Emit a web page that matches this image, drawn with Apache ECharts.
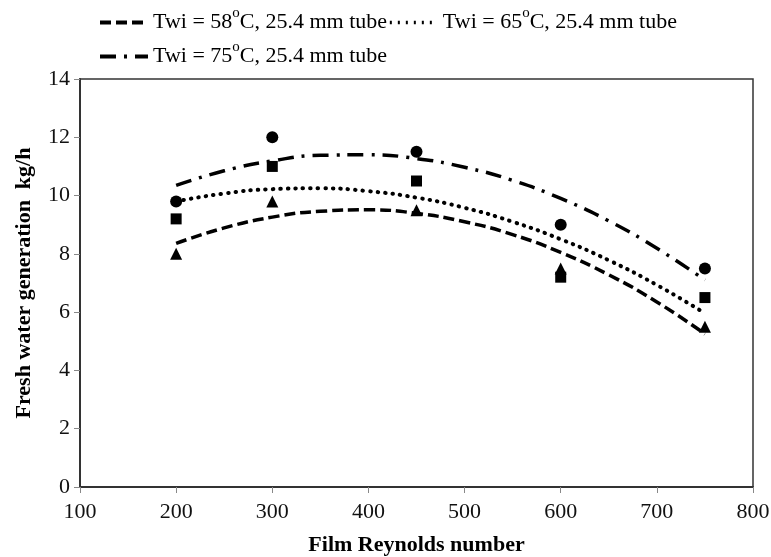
<!DOCTYPE html>
<html>
<head>
<meta charset="utf-8">
<script src="https://cdn.jsdelivr.net/npm/echarts@6/dist/echarts.min.js"></script>
<style>
  html, body { margin: 0; padding: 0; background: #fff; }
  #chart { width: 771px; height: 557px; }
</style>
</head>
<body>
<div id="chart"></div>
<script>
// measured points
var reX = [200, 300, 450, 600, 750];
var circles = [9.8, 12.0, 11.5, 9.0, 7.5];     // 75 C
var squares = [9.2, 11.0, 10.5, 7.2, 6.5];     // 65 C
var triangles = [8.0, 9.8, 9.5, 7.5, 5.5];     // 58 C

// trend curves
var curveX = [200, 250, 300, 350, 400, 450, 500, 550, 600, 650, 700, 750];
var trend58 = [8.36, 8.89, 9.26, 9.46, 9.51, 9.39, 9.10, 8.66, 8.05, 7.28, 6.35, 5.25];
var trend65 = [9.80, 10.07, 10.22, 10.25, 10.15, 9.93, 9.58, 9.10, 8.50, 7.78, 6.93, 5.96];
var trend75 = [10.35, 10.85, 11.19, 11.38, 11.40, 11.27, 10.97, 10.52, 9.90, 9.13, 8.19, 7.10];

var legendNames = ['Twi = 58oC, 25.4 mm tube', 'Twi = 65oC, 25.4 mm tube', 'Twi = 75oC, 25.4 mm tube'];
var xTicks = [100, 800, 100];
var yTicks = [0, 14, 2];

function pairs(xs, ys) {
  return xs.map(function (x, i) { return [x, ys[i]]; });
}

var chart = echarts.init(document.getElementById('chart'));

var serif = 'Liberation Serif';

var option = {
  backgroundColor: '#fff',
  animation: false,
  legend: {
    data: [
      { name: legendNames[0] },
      { name: legendNames[1], lineStyle: { type: [2, 6], cap: 'butt', width: 3.5 } },
      { name: legendNames[2] }
    ],
    left: 98,
    top: 6,
    width: 600,
    itemWidth: 48,
    itemHeight: 12,
    itemGap: 1,
    padding: 0,
    itemStyle: { opacity: 0 },
    lineStyle: { width: 4 },
    textStyle: {
      fontFamily: serif,
      fontSize: 22,
      color: '#000',
      lineHeight: 33,
      rich: {
        sup: { fontFamily: serif, fontSize: 15, color: '#000', verticalAlign: 'top', lineHeight: 20 }
      }
    },
    formatter: function (name) {
      return name.replace(/(\d)oC/, '$1{sup|o}C');
    }
  },
  grid: {
    left: 80, right: 18, top: 79, bottom: 70,
    outerBoundsMode: 'none',
    show: true,
    borderColor: '#333',
    borderWidth: 1.5
  },
  xAxis: {
    type: 'value',
    min: xTicks[0], max: xTicks[1], interval: xTicks[2],
    name: 'Film Reynolds number',
    nameLocation: 'middle',
    nameGap: 47,
    nameTextStyle: { fontFamily: serif, fontSize: 22, fontWeight: 'bold', color: '#000' },
    axisLine: { show: true, lineStyle: { color: '#333', width: 2 } },
    axisTick: { show: true, length: 6, lineStyle: { color: '#888' } },
    axisLabel: { fontFamily: serif, fontSize: 22, color: '#111', margin: 14 },
    splitLine: { show: false }
  },
  yAxis: {
    type: 'value',
    min: yTicks[0], max: yTicks[1], interval: yTicks[2],
    name: 'Fresh water generation  kg/h',
    nameLocation: 'middle',
    nameGap: 45,
    nameTextStyle: { fontFamily: serif, fontSize: 22, fontWeight: 'bold', color: '#000' },
    axisLine: { show: true, lineStyle: { color: '#333', width: 2 } },
    axisTick: { show: true, length: 6, lineStyle: { color: '#888' } },
    axisLabel: { fontFamily: serif, fontSize: 22, color: '#111', margin: 10 },
    splitLine: { show: false }
  },
  series: [
    {
      name: legendNames[0], type: 'line', smooth: true, symbol: 'none',
      data: pairs(curveX, trend58),
      lineStyle: { color: '#000', width: 3.5, type: [11, 5] },
      itemStyle: { color: '#000' }, z: 2
    },
    {
      name: legendNames[1], type: 'line', smooth: true, symbol: 'none',
      data: pairs(curveX, trend65),
      lineStyle: { color: '#000', width: 4, type: [0.5, 7], cap: 'round' },
      itemStyle: { color: '#000' }, z: 2
    },
    {
      name: legendNames[2], type: 'line', smooth: true, symbol: 'none',
      data: pairs(curveX, trend75),
      lineStyle: { color: '#000', width: 3.5, type: [16, 8, 3, 8] },
      itemStyle: { color: '#000' }, z: 2
    },
    {
      name: 'tri', type: 'scatter', symbol: 'triangle', symbolSize: 12,
      data: pairs(reX, triangles), itemStyle: { color: '#000', opacity: 1 }, z: 3
    },
    {
      name: 'sq', type: 'scatter', symbol: 'rect', symbolSize: 11,
      data: pairs(reX, squares), itemStyle: { color: '#000', opacity: 1 }, z: 3
    },
    {
      name: 'circ', type: 'scatter', symbol: 'circle', symbolSize: 12,
      data: pairs(reX, circles), itemStyle: { color: '#000', opacity: 1 }, z: 3
    }
  ]
};

chart.setOption(option);
</script>
</body>
</html>
